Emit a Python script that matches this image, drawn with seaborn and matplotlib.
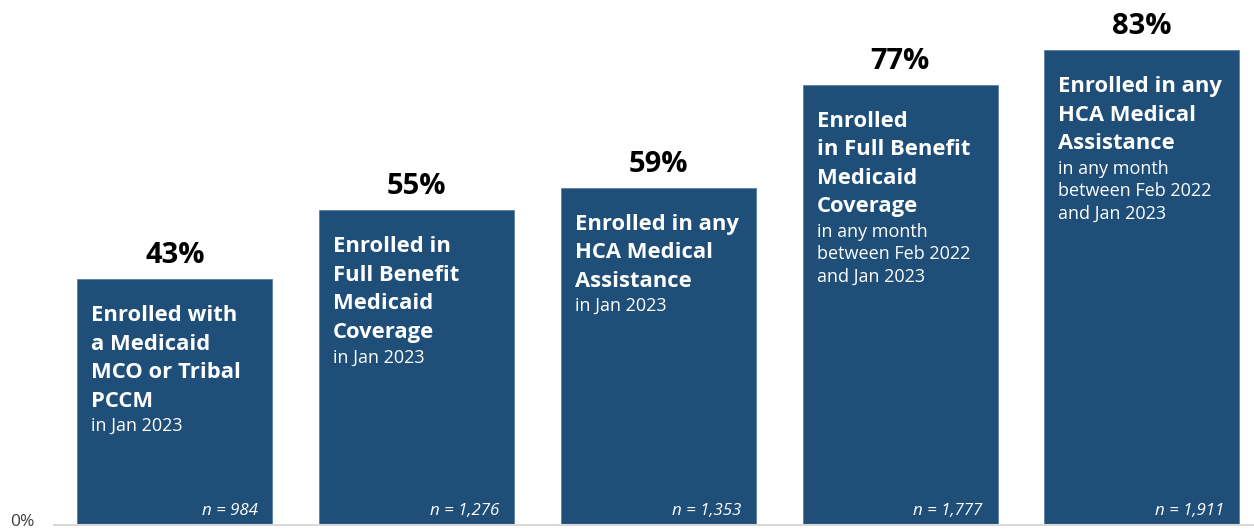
import matplotlib
matplotlib.use("Agg")
import matplotlib.pyplot as plt
import matplotlib.transforms as mtransforms
import seaborn as sns
import pandas as pd

categories = ["MCO or Tribal PCCM", "Full Benefit Jan", "Any HCA Jan", "Full Benefit 12mo", "Any HCA 12mo"]
values = [43, 55, 59, 77, 83]
value_labels = ["43%", "55%", "59%", "77%", "83%"]
bold_lines = [
    ["Enrolled with", "a Medicaid", "MCO or Tribal", "PCCM"],
    ["Enrolled in", "Full Benefit", "Medicaid", "Coverage"],
    ["Enrolled in any", "HCA Medical", "Assistance"],
    ["Enrolled", "in Full Benefit", "Medicaid", "Coverage"],
    ["Enrolled in any", "HCA Medical", "Assistance"],
]
sub_lines = [
    ["in Jan 2023"],
    ["in Jan 2023"],
    ["in Jan 2023"],
    ["in any month", "between Feb 2022", "and Jan 2023"],
    ["in any month", "between Feb 2022", "and Jan 2023"],
]
n_labels = ["n = 984", "n = 1,276", "n = 1,353", "n = 1,777", "n = 1,911"]

sns.set_style("white")
plt.rcParams["font.family"] = ["Open Sans", "DejaVu Sans"]

df = pd.DataFrame({"cat": categories, "val": values})

W, H = 1254, 532
fig = plt.figure(figsize=(W / 100, H / 100), dpi=100)
base_px = 525
px_per_pct = 5.72
ax = fig.add_axes([54 / W, (H - base_px) / H, 1 - 54 / W, base_px / H])

bar_w = 0.807
bar_color = "#1f4e79"
sns.barplot(data=df, x="cat", y="val", color=bar_color, width=bar_w, ax=ax,
            saturation=1, edgecolor="#5a7fa6", linewidth=0.6)

ax.set_ylim(0, base_px / px_per_pct)
ax.set_xlim(-0.5, 4.464)
ax.set_yticks([0])
ax.set_yticklabels(["0%"], fontsize=12.5, color="#404040")
ax.set_xticks([])
ax.set_xlabel("")
ax.set_ylabel("")
ax.tick_params(axis="y", length=0, pad=14)
shift = mtransforms.ScaledTranslation(0, 5 / 100, fig.dpi_scale_trans)
for lbl in ax.get_yticklabels():
    lbl.set_transform(lbl.get_transform() + shift)
for s in ["top", "right", "left"]:
    ax.spines[s].set_visible(False)
ax.spines["bottom"].set_color("#d9d9d9")
ax.spines["bottom"].set_linewidth(1.5)

for i, v in enumerate(values):
    left = i - bar_w / 2
    right = i + bar_w / 2
    ax.annotate(value_labels[i], xy=(i, v), xytext=(0, 16), textcoords="offset pixels",
                ha="center", va="baseline", fontsize=21, fontweight="bold", color="black")
    y_off = -42
    for k, line in enumerate(bold_lines[i]):
        ax.annotate(line, xy=(left, v), xytext=(14, y_off), textcoords="offset pixels",
                    ha="left", va="baseline", fontsize=15.8, fontweight="bold", color="white")
        y_off -= 28.5
    y_off += 28.5 - 24.5
    for k, line in enumerate(sub_lines[i]):
        ax.annotate(line, xy=(left, v), xytext=(14, y_off), textcoords="offset pixels",
                    ha="left", va="baseline", fontsize=13, color="white")
        y_off -= 22.5
    ax.annotate(n_labels[i], xy=(right, 0), xytext=(-15, 10), textcoords="offset pixels",
                ha="right", va="baseline", fontsize=12.2, fontstyle="italic", color="white")

fig.savefig("out.png", dpi=100)
